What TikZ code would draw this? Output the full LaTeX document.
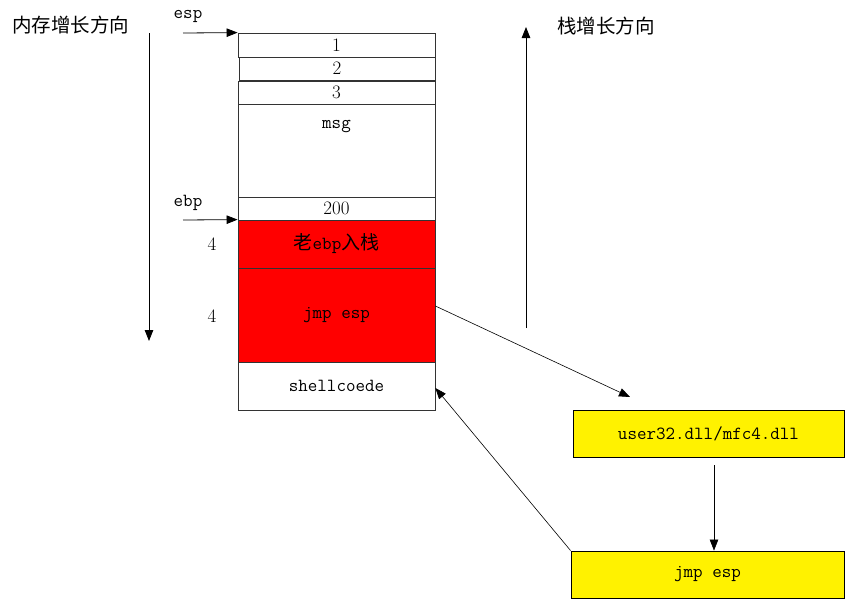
\documentclass[tikz,border=0pt]{standalone}
\usepackage{fontspec}
\newfontfamily\cjk{Noto Sans CJK SC}
\usetikzlibrary{arrows.meta}
\tikzset{
  tt/.style={font=\ttfamily\fontsize{18.5}{20}\selectfont},
  num/.style={font=\rmfamily\fontsize{19}{21}\selectfont},
  cell/.style={draw=black!80, line width=0.8pt, minimum width=197pt, inner sep=0pt},
  redcell/.style={cell, fill=red},
  ybox/.style={draw=black, line width=0.8pt, fill=yellow, minimum width=271pt, minimum height=47pt, inner sep=0pt, tt},
  lbl/.style={inner sep=0pt},
  cjklbl/.style={inner sep=0pt, font=\cjk\fontsize{19.5}{21}\selectfont},
  arr/.style={line width=0.8pt, -{Triangle[length=11pt,width=8.5pt]}},
  thinarr/.style={line width=0.6pt, -{Triangle[length=11pt,width=8.5pt]}}
}
\begin{document}
\begin{tikzpicture}[x=1pt,y=-1pt]
\useasboundingbox (0,0) rectangle (846,600);
% stack cells
\node[cell, num, minimum height=24pt] (r1) at (336.5,45) {1};
\node[cell, num, minimum height=23pt, minimum width=196pt] (r2) at (337,68.5) {2};
\node[cell, num, minimum height=23pt] (r3) at (336.5,92.5) {3};
\node[cell, minimum height=93pt] (msgcell) at (336.5,150.5) {};
\node[lbl, tt] (msgtext) at (336.5,127) {msg};
\node[cell, num, minimum height=23pt] (c200) at (336.5,208.5) {200};
\node[redcell, tt, minimum height=48pt] (oldebp) at (336.5,244) {{\cjk\fontsize{19}{21}\selectfont 老}ebp{\cjk\fontsize{19}{21}\selectfont 入栈}};
\node[redcell, tt, minimum height=94pt] (jmpcell) at (336.5,315) {jmp esp};
\node[cell, tt, minimum height=48pt] (shell) at (336.5,386) {shellcoede};
% side labels
\node[cjklbl] (memdir) at (71,25) {内存增长方向};
\node[cjklbl] (stackdir) at (606,26) {栈增长方向};
\node[lbl, tt] (esp) at (188,16) {esp};
\node[lbl, tt] (ebp) at (188,203) {ebp};
\node[lbl, num] (four1) at (212,244) {4};
\node[lbl, num] (four2) at (212,316) {4};
% pointer arrows
\coordinate (espstart) at (183,33);
\coordinate (ebpstart) at (183,220);
\draw[arr] (espstart) -- (r1.north west);
\draw[arr] (ebpstart) -- (oldebp.north west);
% direction arrows
\coordinate (memtop) at (149,33);
\coordinate (membot) at (149,341);
\draw[arr] (memtop) -- (membot);
\coordinate (stkbot) at (526,328);
\coordinate (stktop) at (526,27);
\draw[arr] (stkbot) -- (stktop);
% yellow boxes
\node[ybox] (user) at (708.5,433.5) {user32.dll/mfc4.dll};
\node[ybox, minimum width=273pt] (jmpbox) at (707.5,574.5) {jmp esp};
% connectors
\coordinate (usertip) at (630,397);
\draw[thinarr] ([yshift=9pt]jmpcell.east) -- (usertip);
\coordinate (downstart) at (714,465);
\draw[thinarr] (downstart) -- (jmpbox.north -| downstart);
\draw[thinarr] (jmpbox.north west) -- ([yshift=-2pt]shell.east);
\end{tikzpicture}
\end{document}
